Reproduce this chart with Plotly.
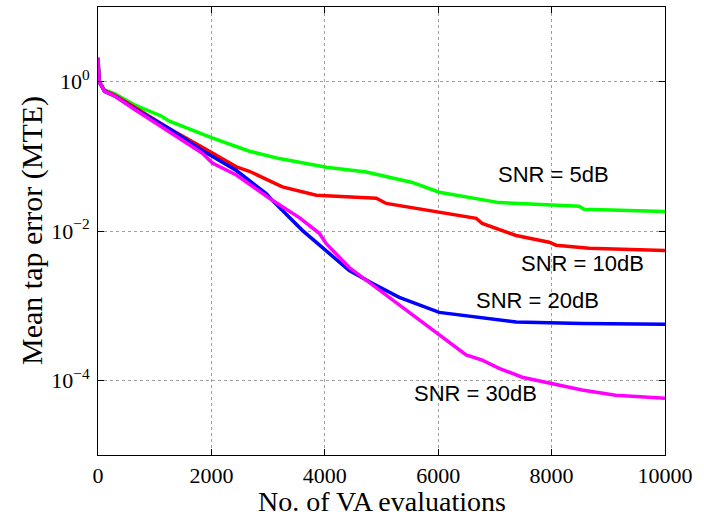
import math
import plotly.graph_objects as go

# ---- data (x: No. of VA evaluations, y: MTE) ----
x_5db = [0, 20, 115, 290, 640, 1114, 1260, 1841, 2000, 2670, 3198, 4026, 4731, 5542, 6018, 7075, 8485, 8573, 10000]
mte_5db = [2.14, 1.0, 0.776, 0.692, 0.490, 0.347, 0.295, 0.195, 0.178, 0.117, 0.0933, 0.0713, 0.0617, 0.0447,
           0.0331, 0.0240, 0.0214, 0.0195, 0.0182]

x_10db = [0, 20, 115, 290, 640, 1114, 1260, 1841, 2440, 2670, 3251, 3850, 4908, 5083, 5612, 6018, 6670, 6776,
          7075, 7374, 7956, 8080, 8661, 10000]
mte_10db = [2.0, 1.0, 0.759, 0.661, 0.457, 0.275, 0.234, 0.132, 0.0724, 0.0631, 0.0389, 0.0302, 0.0275, 0.0234,
            0.0200, 0.0178, 0.0148, 0.0126, 0.0105, 0.0087, 0.00708, 0.00646, 0.00589, 0.0055]

x_20db = [0, 20, 115, 290, 640, 1114, 1260, 1841, 2440, 2970, 3075, 3604, 4026, 4432, 4837, 5313, 6018, 7075,
          7374, 8537, 10000]
mte_20db = [1.9, 1.0, 0.741, 0.646, 0.437, 0.269, 0.234, 0.120, 0.0646, 0.0316, 0.0257, 0.0102, 0.0055, 0.00295,
            0.0020, 0.00129, 0.000813, 0.000631, 0.000603, 0.000575, 0.000562]

x_30db = [0, 20, 115, 290, 640, 1114, 1260, 1841, 2017, 2440, 3022, 3550, 3903, 4026, 4432, 4731, 5013, 5489,
          5842, 6194, 6493, 6776, 7075, 7480, 7956, 8537, 9128, 10000]
mte_30db = [2.09, 1.0, 0.741, 0.646, 0.427, 0.251, 0.211, 0.110, 0.0813, 0.0562, 0.0275, 0.0151, 0.00933, 0.00676,
            0.00324, 0.00219, 0.00148, 0.000794, 0.000501, 0.000324, 0.000219, 0.000186, 0.000145, 0.00011,
            0.0000912, 0.0000741, 0.0000631, 0.0000575]

series_labels = ["SNR = 5dB", "SNR = 10dB", "SNR = 20dB", "SNR = 30dB"]
label_x = [8035, 8550, 7757, 6664]
label_y = [0.0569, 0.00366, 0.00118, 0.0000665]

x_ticks = [0, 2000, 4000, 6000, 8000, 10000]
y_ticks = [1, 0.01, 0.0001]
y_ticktext = ["10<sup>0</sup>", "10<sup>−2</sup>", "10<sup>−4</sup>"]

colors = ["#00ff00", "#ff0000", "#0000ff", "#ff00ff"]
xs = [x_5db, x_10db, x_20db, x_30db]
ys = [mte_5db, mte_10db, mte_20db, mte_30db]

fig = go.Figure()
for xv, yv, c, name in zip(xs, ys, colors, series_labels):
    fig.add_trace(go.Scatter(x=xv, y=yv, mode="lines", name=name,
                             line=dict(color=c, width=3.5), showlegend=False))

for t, lx, ly in zip(series_labels, label_x, label_y):
    fig.add_annotation(x=lx, y=math.log10(ly), text=t, showarrow=False,
                       font=dict(family="Liberation Sans, Arial", size=22, color="black"),
                       xanchor="center", yanchor="middle")

serif = "Liberation Serif, Times New Roman, serif"

# axis titles placed as paper annotations
fig.add_annotation(xref="paper", yref="paper", x=(32 - 98) / 567, y=0.5,
                   text="Mean tap error (MTE)", textangle=-90, showarrow=False,
                   font=dict(family=serif, size=30, color="black"),
                   xanchor="center", yanchor="middle")
fig.add_annotation(xref="paper", yref="paper", x=0.5, y=(455 - 502) / 448,
                   text="No. of VA evaluations", showarrow=False,
                   font=dict(family=serif, size=28, color="black"),
                   xanchor="center", yanchor="middle")

fig.update_layout(
    width=704, height=519,
    margin=dict(l=98, r=39, t=7, b=64),
    paper_bgcolor="white", plot_bgcolor="white",
    font=dict(family=serif, size=22, color="black"),
)
fig.update_xaxes(
    range=[0, 10000], tickvals=x_ticks, ticktext=[str(v) for v in x_ticks],
    showline=True, linecolor="black", linewidth=1, mirror="ticks",
    ticks="inside", ticklen=6, tickcolor="black",
    showgrid=True, gridcolor="#a0a0a0", griddash="dot", gridwidth=1,
    zeroline=False, ticklabelstandoff=1,
)
fig.update_yaxes(
    type="log", range=[-5, 1], tickvals=y_ticks, ticktext=y_ticktext,
    showline=True, linecolor="black", linewidth=1, mirror="ticks",
    ticks="inside", ticklen=6, tickcolor="black",
    showgrid=True, gridcolor="#a0a0a0", griddash="dot", gridwidth=1,
    zeroline=False, ticklabelstandoff=3,
)

fig.write_html("out.html")
